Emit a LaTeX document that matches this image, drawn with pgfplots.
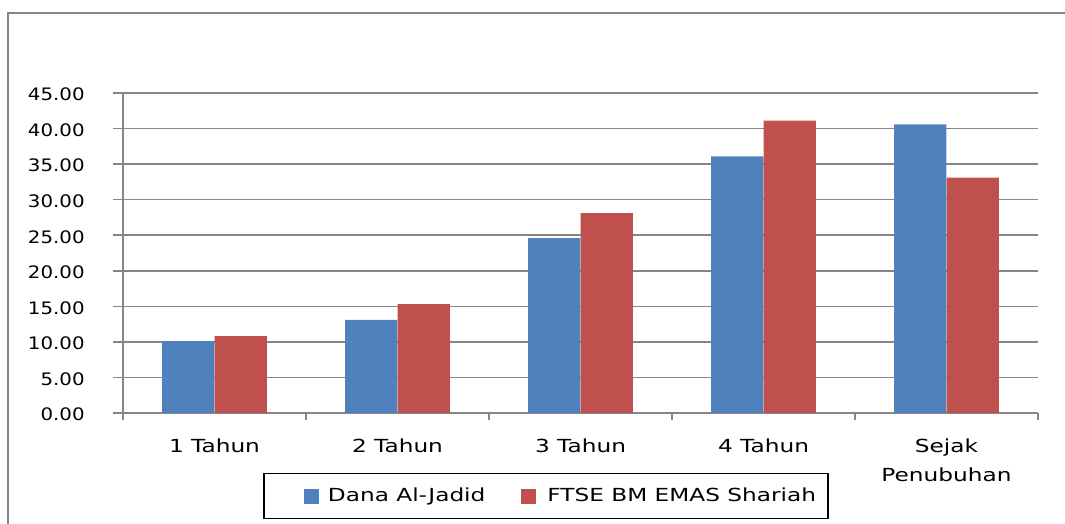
\documentclass[border=0pt]{standalone}
\usepackage{fontspec}
\setmainfont{DejaVu Sans}[FakeStretch=1.29]
\newfontfamily\ytickfont{DejaVu Sans}[FakeStretch=1.15]
\usepackage{pgfplots}
\pgfplotsset{compat=1.18}
\definecolor{danablue}{HTML}{4F81BD}
\definecolor{ftsered}{HTML}{C0504D}
\definecolor{axisgray}{HTML}{868686}
\begin{document}
\begin{tikzpicture}
\useasboundingbox (0,0) rectangle (532.5pt,262pt);
% chart area frame (only left and top edges show)
\draw[axisgray, line width=0.75pt] (4pt,0) -- (4pt,255.5pt) -- (532.5pt,255.5pt);
\begin{axis}[
    at={(61.5pt,55.5pt)}, anchor=south west,
    width=457.5pt, height=160pt, scale only axis,
    xmin=0.5, xmax=5.5, ymin=0, ymax=45,
    axis x line=bottom, axis y line=left,
    axis line style={-, draw=axisgray, line width=0.75pt},
    tick align=outside,
    major tick length=5pt, minor tick length=3.5pt,
    tick style={draw=axisgray, line width=0.75pt},
    major x tick style={draw=none},
    ytick={0,5,...,45},
    xtick={1,...,5},
    minor xtick={0.5,1.5,...,5.5},
    xticklabels={1 Tahun, 2 Tahun, 3 Tahun, 4 Tahun, {Sejak\\Penubuhan}},
    ymajorgrids,
    grid style={draw=axisgray, line width=0.75pt},
    tick label style={text=black},
    xticklabel style={font=\fontsize{9}{14.5}\selectfont, anchor=north, inner sep=0pt,
        yshift=-7.5pt, align=center},
    yticklabel style={font=\ytickfont\fontsize{8.6}{10}\selectfont, anchor=east, inner sep=0pt,
        xshift=-14pt, yshift=-0.8pt,
        /pgf/number format/fixed, /pgf/number format/fixed zerofill,
        /pgf/number format/precision=2, /pgf/number format/assume math mode=true},
    scaled y ticks=false,
    legend columns=2,
    legend style={at={(0.4623,-0.2594)}, anchor=center, draw=black, line width=0.6pt,
        font=\fontsize{9}{11}\selectfont, inner xsep=4pt, inner ysep=5pt,
        /tikz/every even column/.append style={column sep=16pt}},
]
\addplot[ybar, bar width=0.2857, bar shift=-0.1429, fill=danablue, draw=none,
    legend image code/.code={\path (-16pt,0) (10pt,0); \fill[danablue] (0pt,-3.75pt) rectangle (7.5pt,3.75pt);}]
    coordinates {(1,10.1) (2,13.1) (3,24.6) (4,36.1) (5,40.6)};
\addplot[ybar, bar width=0.2857, bar shift=0.1429, fill=ftsered, draw=none,
    legend image code/.code={\path (0pt,0) (11pt,0); \fill[ftsered] (0pt,-3.75pt) rectangle (7.5pt,3.75pt);}]
    coordinates {(1,10.8) (2,15.3) (3,28.1) (4,41.1) (5,33.1)};
\legend{Dana Al-Jadid, FTSE BM EMAS Shariah}
\end{axis}
\end{tikzpicture}
\end{document}
